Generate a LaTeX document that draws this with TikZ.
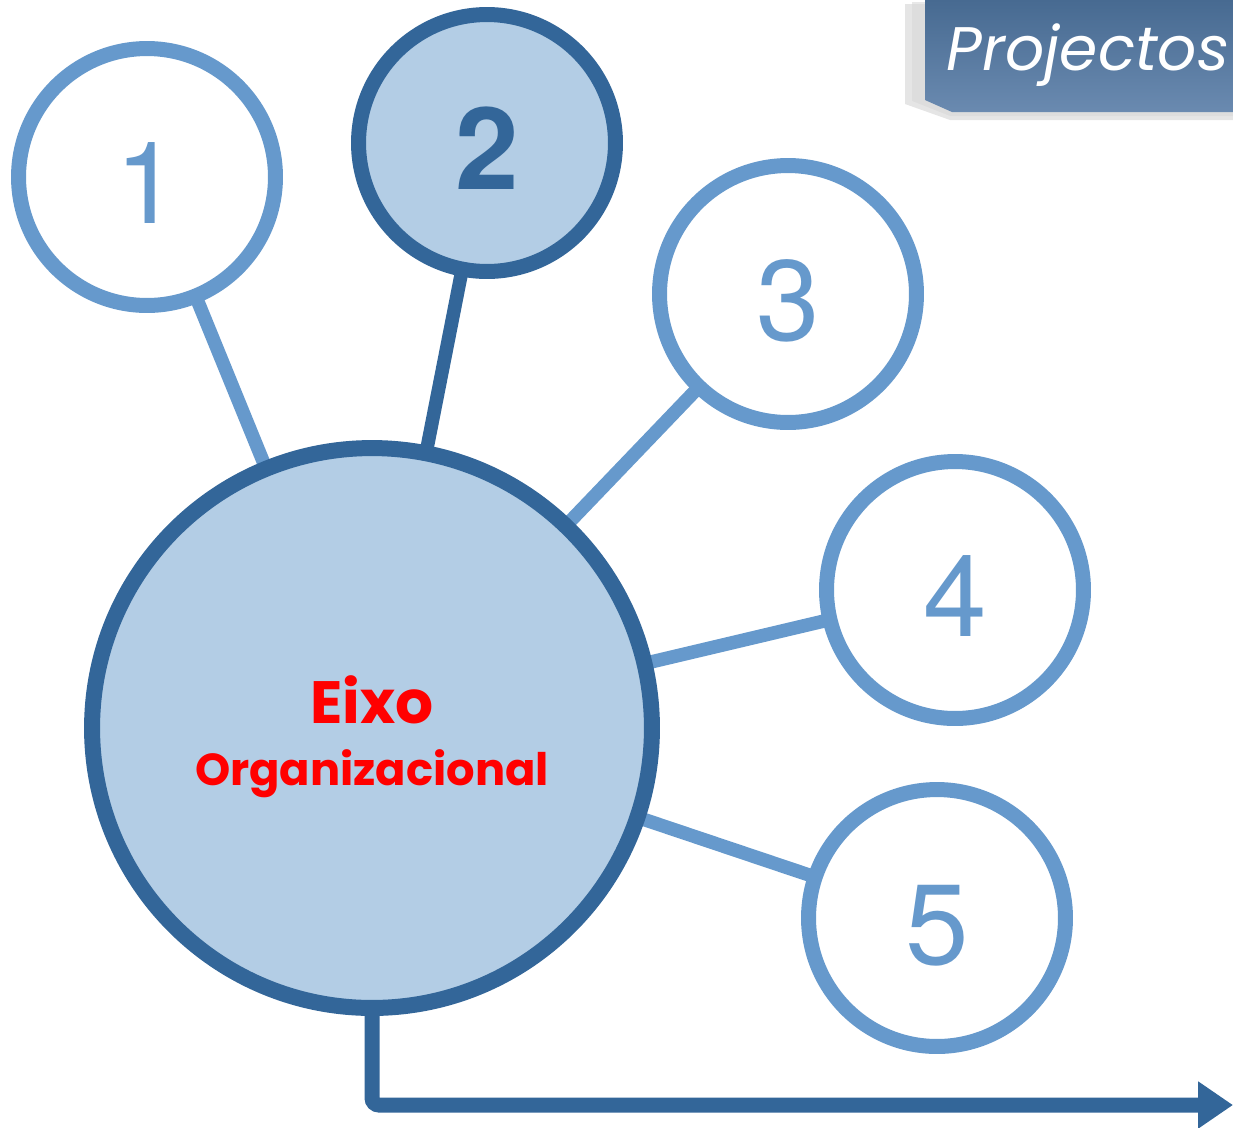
\documentclass[tikz,border=0pt]{standalone}
\usepackage{fontspec}
\setmainfont{TeX Gyre Heros}
\newfontfamily\gothic{Poppins}
\usetikzlibrary{arrows.meta,backgrounds}
\definecolor{lightblue}{HTML}{6699CC}
\definecolor{darkblue}{HTML}{336699}
\definecolor{paleblue}{HTML}{B3CDE5}
\definecolor{tabtop}{HTML}{476A91}
\definecolor{tabbot}{HTML}{6A8AB0}
\tikzset{
  proj/.style={circle, draw=lightblue, line width=0.3cm, fill=white,
    minimum size=5.14cm, inner sep=0pt, text=lightblue,
    font=\fontsize{65}{65}\selectfont, text height=1.85cm, text depth=0cm},
  projsel/.style={proj, draw=darkblue, fill=paleblue, text=darkblue,
    font=\fontsize{65}{65}\selectfont\bfseries},
  eixo/.style={circle, draw=darkblue, line width=0.32cm, fill=paleblue,
    minimum size=11.2cm, inner sep=0pt},
  lbl/.style={text=red, anchor=base, inner sep=0pt},
  link/.style={lightblue, line width=0.27cm},
}
\begin{document}
\begin{tikzpicture}[x=0.02cm,y=-0.02cm]
      \useasboundingbox (0,0) rectangle (1233,1127);
      % title tab
      \fill[gray!40, opacity=0.5] (905,4) -- (1233,4) -- (1233,120) -- (950,120) -- (905,104) -- cycle;
      \fill[gray!30, opacity=0.6] (912,2) -- (1233,2) -- (1233,116) -- (950,116) -- (912,101) -- cycle;
      \shade[top color=tabtop, bottom color=tabbot]
        (925,0) -- (1233,0) -- (1233,112) -- (952,112) -- (925,100) -- cycle;
      \node[text=white, anchor=base, inner sep=0pt, font=\gothic\itshape\fontsize{35}{35}\selectfont] (title) at (1088,70) {Projectos};
      % circles
      \draw
        (372,728) node[eixo] (0){}
        (147,177) node[proj] (1){1}
        (487,143) node[projsel] (2){2}
        (788,294) node[proj] (3){3}
        (955,590) node[proj] (4){4}
        (937,918) node[proj] (5){5};
      \node[lbl, font=\gothic\bfseries\fontsize{34}{34}\selectfont] (eixo) at (372,723) {Eixo};
      \node[lbl, font=\gothic\bfseries\fontsize{25.5}{25.5}\selectfont] (org) at (372,785) {Organizacional};
      \begin{scope}[on background layer]
        \draw[link] (0.center) to (1.center);
        \draw[link, darkblue] (0.center) to (2.center);
        \draw[link] (0.center) to (3.center);
        \draw[link] (0.center) to (4.center);
        \draw[link] (0.center) to (5.center);
      \end{scope}
      \coordinate (end) at (1233,1105);
      \draw[darkblue, line width=0.3cm, rounded corners=4pt, -{Triangle[length=0.7cm,width=0.9cm]}]
        (0.south) |- (end);
    \end{tikzpicture}
\end{document}
